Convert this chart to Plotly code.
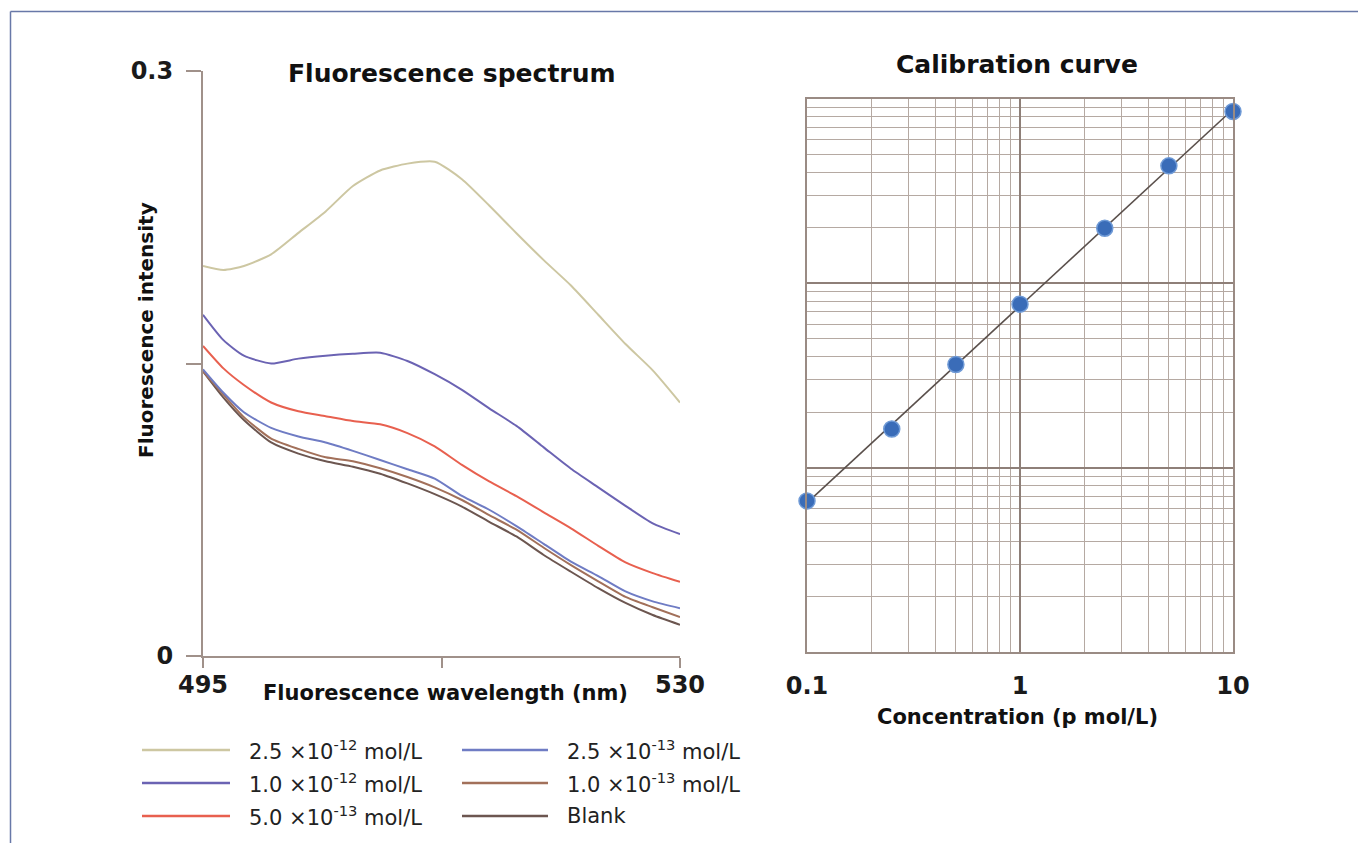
import numpy as np
import plotly.graph_objects as go

W, H = 1358, 843

# ---------------- data: fluorescence spectrum ----------------
wavelength = [495, 496.5, 498, 500, 502, 504, 506, 508, 510, 512, 514, 516, 518, 520, 522, 524, 526, 528, 530]
int_2p5e12 = [0.200, 0.198, 0.200, 0.206, 0.217, 0.228, 0.241, 0.249, 0.2525, 0.2535, 0.2445, 0.231, 0.2168, 0.203, 0.190, 0.175, 0.160, 0.1465, 0.130]
int_1p0e12 = [0.175, 0.162, 0.154, 0.150, 0.1525, 0.154, 0.155, 0.1555, 0.1513, 0.1445, 0.1365, 0.127, 0.118, 0.107, 0.096, 0.0865, 0.077, 0.068, 0.0625]
int_5p0e13 = [0.159, 0.1475, 0.139, 0.130, 0.1255, 0.1230, 0.1205, 0.1188, 0.1143, 0.1075, 0.098, 0.0895, 0.082, 0.0737, 0.0655, 0.0565, 0.048, 0.0425, 0.038]
int_2p5e13 = [0.147, 0.135, 0.125, 0.117, 0.1126, 0.1095, 0.1052, 0.1005, 0.0958, 0.0910, 0.0821, 0.0750, 0.0666, 0.0575, 0.0484, 0.0410, 0.0331, 0.0280, 0.0245]
int_1p0e13 = [0.146, 0.134, 0.1225, 0.1115, 0.1062, 0.1019, 0.0999, 0.0963, 0.0918, 0.0865, 0.0800, 0.0722, 0.0648, 0.0555, 0.0466, 0.0383, 0.0303, 0.0250, 0.0200]
int_blank = [0.146, 0.1325, 0.121, 0.1095, 0.1038, 0.0999, 0.0971, 0.0935, 0.0885, 0.0830, 0.0766, 0.0688, 0.0613, 0.0518, 0.0432, 0.0348, 0.0272, 0.0210, 0.0160]

series_labels = ["2.5 ×10<sup>-12</sup> mol/L", "1.0 ×10<sup>-12</sup> mol/L", "5.0 ×10<sup>-13</sup> mol/L",
                 "2.5 ×10<sup>-13</sup> mol/L", "1.0 ×10<sup>-13</sup> mol/L", "Blank"]
series_values = [int_2p5e12, int_1p0e12, int_5p0e13, int_2p5e13, int_1p0e13, int_blank]
series_colors = ["#cdc7a2", "#6b63b3", "#e8604f", "#6f7cc4", "#a2705a", "#6c5650"]

spec_x_ticks = [495, 512.5, 530]
spec_x_ticktext = ["495", "", "530"]
spec_y_ticks = [0, 0.15, 0.3]
spec_y_ticktext = ["0", "", "0.3"]

# ---------------- data: calibration curve ----------------
conc = [0.1, 0.25, 0.5, 1, 2.5, 5, 10]
signal = [0.0066, 0.0162, 0.0363, 0.0771, 0.199, 0.434, 0.856]
cal_x_ticks = [0.1, 1, 10]
cal_x_ticktext = ["0.1", "1", "10"]
cal_y_ticks = [0.001, 0.01, 0.1, 1]


def px(x):
    return x / W


def py(y):
    return 1 - y / H


FONT = "DejaVu Sans"
AX_COL = "#a0918a"

fig = go.Figure()

# spectrum curves (draw lower ones first)
for lab, vals, col in reversed(list(zip(series_labels, series_values, series_colors))):
    fig.add_trace(go.Scatter(
        x=wavelength, y=vals, mode="lines", name=lab,
        line=dict(color=col, width=2, shape="spline", smoothing=0.6),
        xaxis="x", yaxis="y", showlegend=False, hoverinfo="skip"))

# calibration fit line (log-log linear fit)
lx = np.log10(conc)
ly = np.log10(signal)
coef = np.polyfit(lx, ly, 1)
fit_x = [conc[0], conc[-1]]
fit_y = [10 ** np.polyval(coef, np.log10(v)) for v in fit_x]
fig.add_trace(go.Scatter(x=fit_x, y=fit_y, mode="lines",
                         line=dict(color="#5a504c", width=1.6),
                         xaxis="x2", yaxis="y2", showlegend=False, cliponaxis=False))
fig.add_trace(go.Scatter(x=conc, y=signal, mode="markers",
                         marker=dict(color="#3a6cb8", size=16, line=dict(color="#6f9ad6", width=1.5)),
                         xaxis="x2", yaxis="y2", showlegend=False, cliponaxis=False))

minor_x = [k * 10.0 ** n for n in (-1, 0) for k in range(2, 10)]
minor_y = [k * 10.0 ** n for n in (-3, -2, -1) for k in range(2, 10)]

tickfont = dict(family=FONT, size=24, color="#1a1a1a", weight=700)

fig.update_layout(
    template="none",
    width=W, height=H, autosize=False,
    margin=dict(l=0, r=0, t=0, b=0, pad=0, autoexpand=False),
    paper_bgcolor="white", plot_bgcolor="white",
    showlegend=False,
    xaxis=dict(domain=[px(203), px(680)], range=[495, 530], anchor="y", automargin=False,
               showline=True, linecolor=AX_COL, linewidth=2,
               ticks="outside", ticklen=10, tickwidth=2, tickcolor=AX_COL,
               tickmode="array", tickvals=spec_x_ticks, ticktext=spec_x_ticktext,
               tickfont=tickfont, ticklabelstandoff=-4,
               showgrid=False, zeroline=False),
    yaxis=dict(domain=[py(656), py(71)], range=[0, 0.3], anchor="x", automargin=False,
               showline=True, linecolor=AX_COL, linewidth=2,
               ticks="outside", ticklen=15, tickwidth=2, tickcolor=AX_COL,
               tickmode="array", tickvals=spec_y_ticks, ticktext=spec_y_ticktext,
               tickfont=tickfont, ticklabelstandoff=8,
               showgrid=False, zeroline=False),
    xaxis2=dict(type="log", domain=[px(807), px(1233)], range=[-1, 1], anchor="y2", automargin=False,
                showline=True, mirror=True, linecolor="#9a8b84", linewidth=1.5,
                ticks="", tickmode="array", tickvals=cal_x_ticks, ticktext=cal_x_ticktext,
                tickfont=tickfont, ticklabelstandoff=11,
                showgrid=True, gridcolor="#8e7f78", gridwidth=1.6,
                minor=dict(tickmode="array", tickvals=minor_x, showgrid=True,
                           gridcolor="#b5a9a2", gridwidth=1, ticks=""),
                zeroline=False),
    yaxis2=dict(type="log", domain=[py(652), py(99)], range=[-3, 0], anchor="x2", automargin=False,
                showline=True, mirror=True, linecolor="#9a8b84", linewidth=1.5,
                ticks="", tickmode="array", tickvals=cal_y_ticks, showticklabels=False,
                showgrid=True, gridcolor="#8e7f78", gridwidth=1.6,
                minor=dict(tickmode="array", tickvals=minor_y, showgrid=True,
                           gridcolor="#b5a9a2", gridwidth=1, ticks=""),
                zeroline=False),
)

annotations = [
    dict(text="Fluorescence spectrum", x=px(452), y=py(73), xref="paper", yref="paper",
         showarrow=False, xanchor="center", yanchor="middle",
         font=dict(family=FONT, size=25, color="#111", weight=700)),
    dict(text="Calibration curve", x=px(1017), y=py(65), xref="paper", yref="paper",
         showarrow=False, xanchor="center", yanchor="middle",
         font=dict(family=FONT, size=25, color="#111", weight=700)),
    dict(text="Fluorescence wavelength (nm)", x=px(445), y=py(693), xref="paper", yref="paper",
         showarrow=False, xanchor="center", yanchor="middle",
         font=dict(family=FONT, size=21, color="#111", weight=700)),
    dict(text="Concentration (p mol/L)", x=px(1017), y=py(717), xref="paper", yref="paper",
         showarrow=False, xanchor="center", yanchor="middle",
         font=dict(family=FONT, size=21, color="#111", weight=700)),
    dict(text="Fluorescence intensity", x=px(146), y=py(330), xref="paper", yref="paper",
         showarrow=False, xanchor="center", yanchor="middle", textangle=-90,
         font=dict(family=FONT, size=20, color="#111", weight=700)),
]

shapes = [
    # outer frame (left and top edges)
    dict(type="line", xref="paper", yref="paper", x0=px(10.5), x1=px(10.5), y0=py(11.5), y1=py(843),
         line=dict(color="#6878a8", width=1.5)),
    dict(type="line", xref="paper", yref="paper", x0=px(10.5), x1=px(1358), y0=py(11.5), y1=py(11.5),
         line=dict(color="#6878a8", width=1.5)),
]

# manual two-column legend
legend_cols = [(142, 230, 247), (462, 548, 565)]
legend_rows = [750, 783, 816]
for i, (lab, col) in enumerate(zip(series_labels, series_colors)):
    c = i // 3
    r = i % 3
    x0, x1, xt = legend_cols[c]
    yy = legend_rows[r]
    shapes.append(dict(type="line", xref="paper", yref="paper", x0=px(x0), x1=px(x1),
                       y0=py(yy), y1=py(yy), line=dict(color=col, width=2.5)))
    annotations.append(dict(text=lab, x=px(xt), y=py(yy), xref="paper", yref="paper",
                            showarrow=False, xanchor="left", yanchor="middle",
                            font=dict(family=FONT, size=21, color="#222")))

fig.update_layout(annotations=annotations, shapes=shapes)

fig.write_html("out.html")
